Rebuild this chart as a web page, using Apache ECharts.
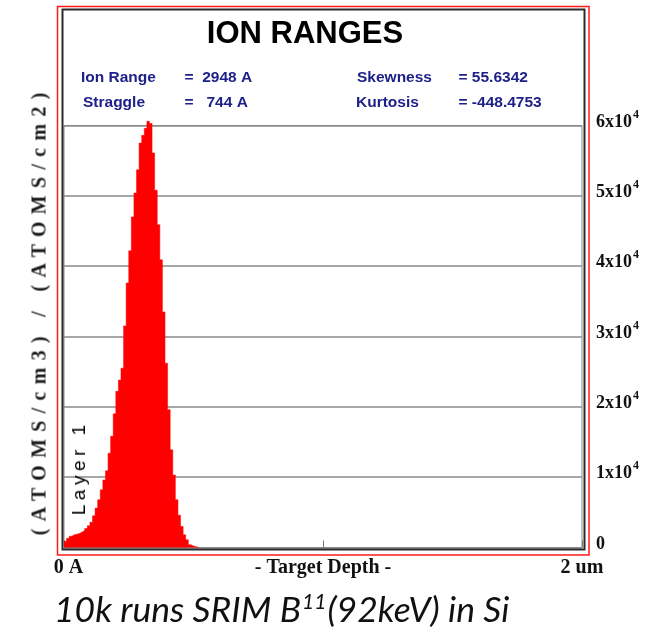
<!DOCTYPE html>
<html>
<head>
<meta charset="utf-8">
<script src="https://cdn.jsdelivr.net/npm/echarts@6/dist/echarts.min.js"></script>
<style>
  html, body { margin: 0; padding: 0; background: #fff; }
  #wrap { position: relative; width: 648px; height: 633px; overflow: hidden; }
  #chart { position: absolute; left: 0; top: 0; width: 648px; height: 633px; }
  .vlabel { position: absolute; white-space: nowrap; pointer-events: none;
            transform: translate(-50%, -50%) rotate(-90deg); }
  #yname { left: 38.5px; top: 314px; font-family: "Liberation Serif", "Times New Roman", serif;
           font-weight: bold; font-size: 20px; letter-spacing: 7.3px; padding-left: 7.3px; color: #1a1a1a; }
  #layer { left: 79px; top: 470px; font-family: "Liberation Sans", Arial, sans-serif;
           font-size: 19px; letter-spacing: 4.5px; padding-left: 4.5px; color: #000; }
</style>
</head>
<body>
<div id="wrap">
  <div id="chart"></div>
  <div class="vlabel" id="yname">(ATOMS/cm3) / (ATOMS/cm2)</div>
  <div class="vlabel" id="layer">Layer 1</div>
</div>
<script>
// Depth histogram of implanted B-11 ions, 10 nm bins from the surface
const binWidthNm = 10;
const depthMaxNm = 2000;
const ionCounts = [
  900, 1300, 1600, 1800, 1900, 2000, 2200, 2400, 2700, 3100,
  3600, 4500, 5600, 6800, 8200, 9600, 10900, 13400, 15800, 19000,
  22200, 23800, 25500, 31500, 37600, 42200, 47000, 50400, 53700, 57500,
  58600, 59600, 60600, 60300, 56100, 50800, 45900, 40900, 33500, 26200,
  19600, 13900, 10300, 6800, 4600, 3000, 1800, 1100, 400, 200,
  100, 50, 0
];

// Axis ticks and labels
const xLabelStepNm = 1000;
const xTickLabels = ['0 A', '- Target Depth -', '2 um'];
const yStep = 10000;
const yMax = 60000;
const yLabelMantissa = ['0', '1x10', '2x10', '3x10', '4x10', '5x10', '6x10'];
const yLabelExponent = '4';

// Summary statistics block
const chartTitle = 'ION RANGES';
const statNamesLeft = ['Ion Range', 'Straggle'];
const statValuesLeft = ['=  2948 A', '=   744 A'];
const statNamesRight = ['Skewness', 'Kurtosis'];
const statValuesRight = ['= 55.6342', '= -448.4753'];
const captionMain = '10k runs SRIM B';
const captionSup = '11';
const captionTail = '(92keV) in Si';

const seriesData = ionCounts.map((v, i) => [i * binWidthNm, v]);

const serif = 'Liberation Serif, Times New Roman, serif';
const sans = 'Liberation Sans, Arial, sans-serif';
const statColor = '#1e2288';
const statFont = { fontFamily: sans, fontWeight: 'bold', fontSize: 15.5, fill: statColor };

function statText(text, x, y) {
  return { type: 'text', left: x, top: y - 9, silent: true,
           style: Object.assign({ text: text }, statFont) };
}

const chart = echarts.init(document.getElementById('chart'), null, { renderer: 'canvas' });

chart.setOption({
  animation: false,
  backgroundColor: '#fff',
  grid: {
    left: 64, right: 66, top: 125.5, bottom: 85.5,
    show: true, borderColor: '#8a8a8a', borderWidth: 1, backgroundColor: 'transparent'
  },
  xAxis: {
    type: 'value', min: 0, max: depthMaxNm, interval: xLabelStepNm,
    axisLine: { show: false },
    axisTick: { show: true, inside: true, length: 7, lineStyle: { color: '#777', width: 1 } },
    splitLine: { show: false },
    axisLabel: {
      margin: 10, color: '#111',
      fontFamily: serif, fontWeight: 'bold', fontSize: 20,
      formatter: (v) => {
        const i = Math.round(v / xLabelStepNm);
        const t = xTickLabels[i] || '';
        return i === 0 ? '{l|' + t + '}' : t;
      },
      rich: {
        l: { fontFamily: serif, fontWeight: 'bold', fontSize: 20, color: '#111', padding: [0, 0, 0, 9] }
      }
    }
  },
  yAxis: {
    type: 'value', position: 'right', min: 0, max: yMax, interval: yStep,
    axisLine: { show: false }, axisTick: { show: false },
    splitLine: { show: true, lineStyle: { color: '#8a8a8a', width: 1.5 } },
    axisLabel: {
      margin: 14, padding: [0, 0, 7, 0], color: '#111',
      fontFamily: serif, fontWeight: 'bold', fontSize: 18,
      formatter: (v) => {
        const i = Math.round(v / yStep);
        return i === 0 ? '{b|' + yLabelMantissa[0] + '}'
                       : '{b|' + yLabelMantissa[i] + '}{s|' + yLabelExponent + '}';
      },
      rich: {
        b: { fontFamily: serif, fontWeight: 'bold', fontSize: 18, color: '#111' },
        s: { fontFamily: serif, fontWeight: 'bold', fontSize: 12, color: '#111', padding: [0, 0, 15, 1] }
      }
    }
  },
  series: [{
    type: 'line',
    step: 'end',
    data: seriesData,
    symbol: 'none',
    clip: false,
    lineStyle: { color: '#ff0000', width: 0.5 },
    areaStyle: { color: '#ff0000', opacity: 1 },
    z: 3
  }],
  graphic: [
    { type: 'rect', silent: true, z: 10,
      shape: { x: 57.5, y: 6.5, width: 531.5, height: 548.5 },
      style: { fill: 'none', stroke: '#ff1a1a', lineWidth: 1.5 } },
    { type: 'rect', silent: true, z: 10,
      shape: { x: 62.5, y: 9.5, width: 522, height: 540 },
      style: { fill: 'none', stroke: '#2a2a2a', lineWidth: 2 } },
    { type: 'text', silent: true, x: 305, y: 34,
      style: { text: chartTitle, fontFamily: sans, fontWeight: 'bold',
               fontSize: 31, fill: '#000', align: 'center', verticalAlign: 'middle' } },
    statText(statNamesLeft[0], 81, 79),
    statText(statNamesLeft[1], 83, 104),
    statText(statValuesLeft[0], 184.5, 79),
    statText(statValuesLeft[1], 184.5, 104),
    statText(statNamesRight[0], 357, 79),
    statText(statNamesRight[1], 356, 104),
    statText(statValuesRight[0], 458.5, 79),
    statText(statValuesRight[1], 458.5, 104),
    { type: 'text', silent: true, x: 54, y: 611,
      style: {
        text: '{a|' + captionMain + '}{s|' + captionSup + '}{a|' + captionTail + '}',
        verticalAlign: 'middle',
        rich: {
          a: { fontFamily: 'Lato, Open Sans, sans-serif', fontStyle: 'italic', fontSize: 35.5, fill: '#111' },
          s: { fontFamily: 'Lato, Open Sans, sans-serif', fontStyle: 'italic', fontSize: 21, fill: '#111', padding: [0, 1, 18, 1] }
        }
      } }
  ]
});
</script>
</body>
</html>
